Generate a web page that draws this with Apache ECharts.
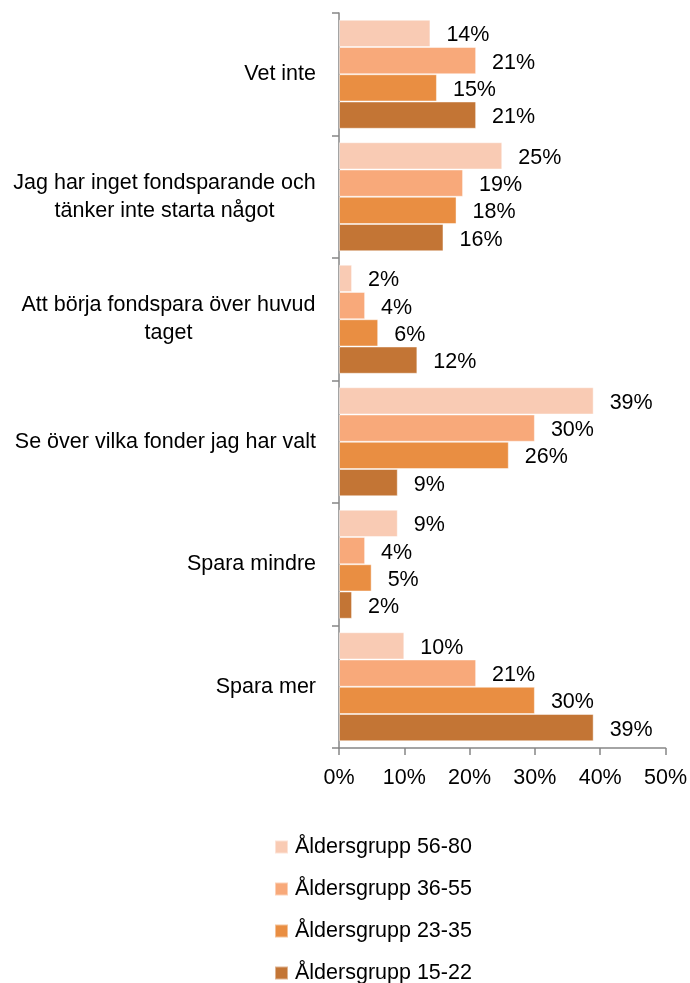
<!doctype html>
<html>
<head>
<meta charset="UTF-8">
<title>Fondsparande</title>
<script src="https://cdn.jsdelivr.net/npm/echarts@6/dist/echarts.min.js"></script>
<style>
  html, body { margin: 0; padding: 0; background: #fff; }
  #chart { width: 690px; height: 983px; }
</style>
</head>
<body>
<div id="chart"></div>
<script>
// kategorier uppifrån och ned
var categories = [
  'Vet inte',
  'Jag har inget fondsparande och\ntänker inte starta något',
  'Att börja fondspara över huvud\ntaget',
  'Se över vilka fonder jag har valt',
  'Spara mindre',
  'Spara mer'
];

var groupNames = ['Åldersgrupp 56-80', 'Åldersgrupp 36-55', 'Åldersgrupp 23-35', 'Åldersgrupp 15-22'];
var groupColors = ['#F9CBB4', '#F8A97A', '#E98E42', '#C37535'];

var age56_80 = [14, 25, 2, 39, 9, 10];
var age36_55 = [21, 19, 4, 30, 4, 21];
var age23_35 = [15, 18, 6, 26, 5, 30];
var age15_22 = [21, 16, 12, 9, 2, 39];

var xTicks = { min: 0, max: 50, interval: 10 };

var values = [age56_80, age36_55, age23_35, age15_22];
var font = 'Liberation Sans';
var fontSize = 21.5;
var axisColor = '#868686';

// mät textbredd så att flerradiga etiketter centreras i sitt eget block
var measureCtx = document.createElement('canvas').getContext('2d');
measureCtx.font = fontSize + 'px "' + font + '"';
function textWidth(s) { return Math.ceil(measureCtx.measureText(s).width); }
function blockWidth(v) {
  var w = 0;
  v.split('\n').forEach(function (l) { w = Math.max(w, textWidth(l)); });
  return w;
}

var series = [];
for (var i = 0; i < values.length; i++) {
  series.push({
    name: groupNames[i],
    type: 'bar',
    data: values[i],
    barGap: '0%',
    barCategoryGap: '11%',
    itemStyle: {
      color: groupColors[i],
      borderColor: 'rgba(255,255,255,0.45)',
      borderWidth: 1
    },
    label: {
      show: true,
      position: 'right',
      distance: 16,
      offset: [0, 2],
      formatter: '{c}%',
      color: '#000',
      fontFamily: font,
      fontSize: fontSize
    }
  });
}

var rich = {};
categories.forEach(function (v) {
  if (v.indexOf('\n') < 0) return;
  var w = blockWidth(v);
  rich['c' + w] = { width: w, align: 'center', fontFamily: font, fontSize: fontSize, lineHeight: 28, color: '#000' };
});

var chart = echarts.init(document.getElementById('chart'));
chart.setOption({
  animation: false,
  grid: { left: 339, right: 23, top: 13, bottom: 235 },
  xAxis: {
    type: 'value',
    min: xTicks.min,
    max: xTicks.max,
    interval: xTicks.interval,
    splitLine: { show: false },
    axisLine: { show: true, lineStyle: { color: axisColor, width: 1.5 } },
    axisTick: { show: true, length: 7, lineStyle: { color: axisColor, width: 1.5 } },
    axisLabel: { formatter: '{value}%', color: '#000', fontFamily: font, fontSize: fontSize, margin: 19 }
  },
  yAxis: {
    type: 'category',
    data: categories,
    inverse: true,
    axisLine: { show: true, lineStyle: { color: axisColor, width: 1.5 } },
    axisTick: { show: true, length: 7, lineStyle: { color: axisColor, width: 1.5 } },
    axisLabel: {
      color: '#000',
      fontFamily: font,
      fontSize: fontSize,
      lineHeight: 28,
      align: 'right',
      margin: 23,
      formatter: function (v) {
        if (v.indexOf('\n') < 0) return v;
        var key = 'c' + blockWidth(v);
        return v.split('\n').map(function (l) { return '{' + key + '|' + l + '}'; }).join('\n');
      },
      rich: rich
    }
  },
  legend: {
    orient: 'vertical',
    left: 274,
    top: 836,
    height: 400,
    padding: 0,
    itemWidth: 13,
    itemHeight: 13,
    itemGap: 20,
    icon: 'rect',
    data: groupNames,
    textStyle: { color: '#000', fontFamily: font, fontSize: fontSize, padding: [0, 0, 0, 2] }
  },
  series: series
});
</script>
</body>
</html>
